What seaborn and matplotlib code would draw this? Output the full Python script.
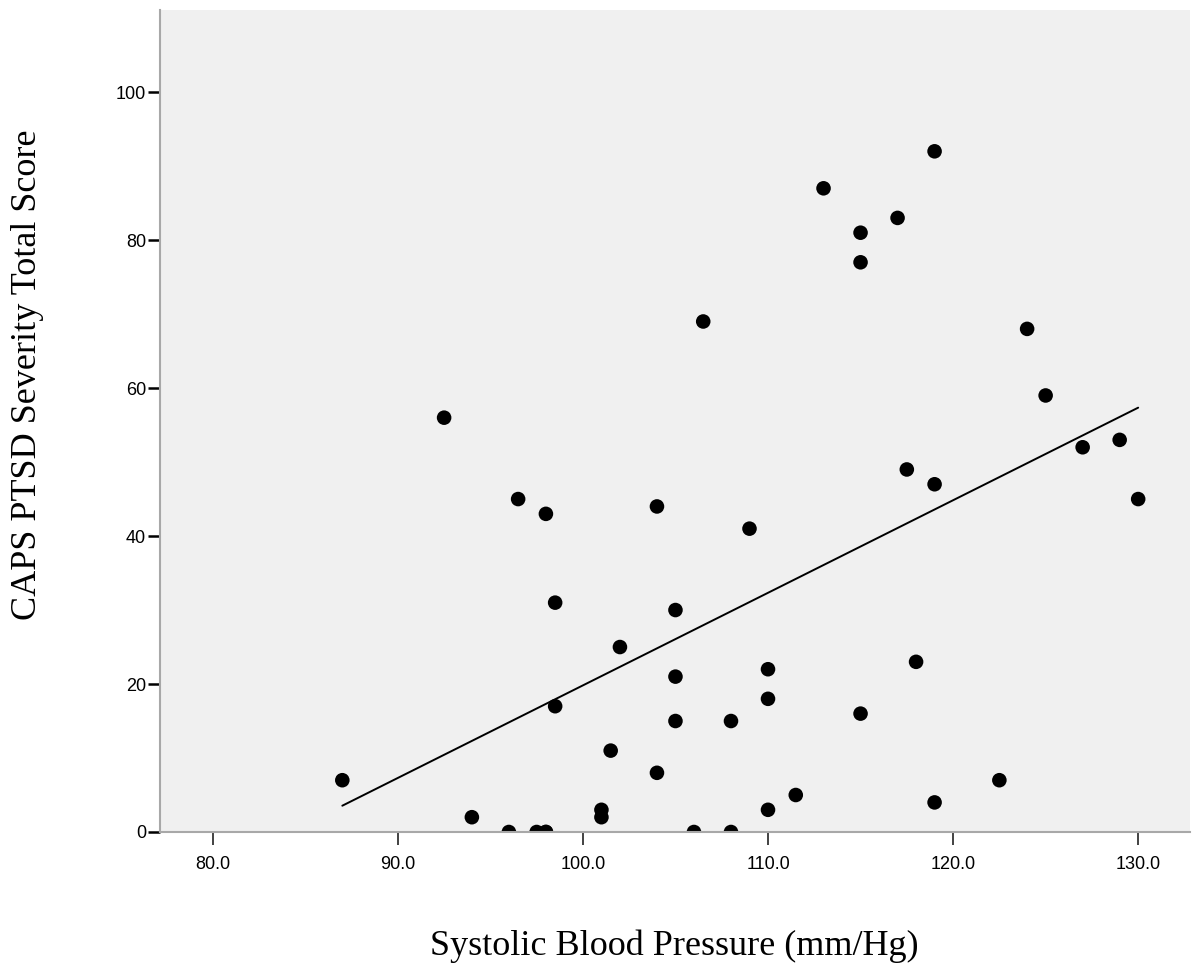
import matplotlib
matplotlib.use("Agg")
import matplotlib.pyplot as plt
import seaborn as sns
import pandas as pd

systolic_bp = [87, 92.5, 94, 96, 96.5, 97.5, 98, 98, 98, 98.5, 98.5,
               101, 101, 101.5, 102, 104, 104, 105, 105, 105, 106, 106.5,
               108, 108, 109, 110, 110, 110, 111.5, 113, 115, 115, 115,
               117, 117.5, 118, 119, 119, 119, 122.5, 124, 125, 127, 129, 130]
caps_score = [7, 56, 2, 0, 45, 0, 0, 43, 0, 31, 17,
              3, 2, 11, 25, 44, 8, 30, 21, 15, 0, 69,
              0, 15, 41, 22, 18, 3, 5, 87, 81, 77, 16,
              83, 49, 23, 92, 47, 4, 7, 68, 59, 52, 53, 45]

x_ticks = [80, 90, 100, 110, 120, 130]
y_ticks = [0, 20, 40, 60, 80, 100]
x_label = "Systolic Blood Pressure (mm/Hg)"
y_label = "CAPS PTSD Severity Total Score"

df = pd.DataFrame({"sbp": systolic_bp, "caps": caps_score})

sns.set_style("white", {"axes.facecolor": "#f0f0f0"})
plt.rcParams["font.family"] = ["Liberation Sans", "DejaVu Sans"]

fig = plt.figure(figsize=(11.93, 9.75), dpi=100)
ax = fig.add_axes([160 / 1193, 143 / 975, 1030 / 1193, 822 / 975])

sns.regplot(data=df, x="sbp", y="caps", ax=ax, ci=None, truncate=True,
            scatter_kws={"s": 110, "color": "black", "edgecolor": "none", "alpha": 1},
            line_kws={"color": "black", "linewidth": 1.4})

ax.set_xlim(77.15, 132.8)
ax.set_ylim(0, 111.1)
ax.set_xticks(x_ticks)
ax.set_xticklabels([f"{v:.1f}" for v in x_ticks])
ax.set_yticks(y_ticks)
ax.set_yticklabels([str(v) for v in y_ticks])

for s in ["top", "right"]:
    ax.spines[s].set_visible(False)
for s in ["left", "bottom"]:
    ax.spines[s].set_color("#a8a8a8")
    ax.spines[s].set_linewidth(1.5)

ax.tick_params(axis="y", left=True, direction="out", length=9, width=1.8, color="black",
               labelsize=13, pad=1, labelcolor="black")
ax.tick_params(axis="x", bottom=True, direction="out", length=9, width=1.3, color="#333333",
               labelsize=13, pad=8, labelcolor="black")

ax.set_xlabel("")
ax.set_ylabel("")
fig.text(674.5 / 1193, 1 - 946 / 975, x_label, ha="center", va="center",
         fontsize=26, color="black", family=["Liberation Serif", "DejaVu Serif"])
fig.text(28 / 1193, 1 - 375 / 975, y_label, ha="center", va="center",
         rotation=90, fontsize=26, color="black", family=["Liberation Serif", "DejaVu Serif"])

fig.savefig("out.png", dpi=100, facecolor="white")
